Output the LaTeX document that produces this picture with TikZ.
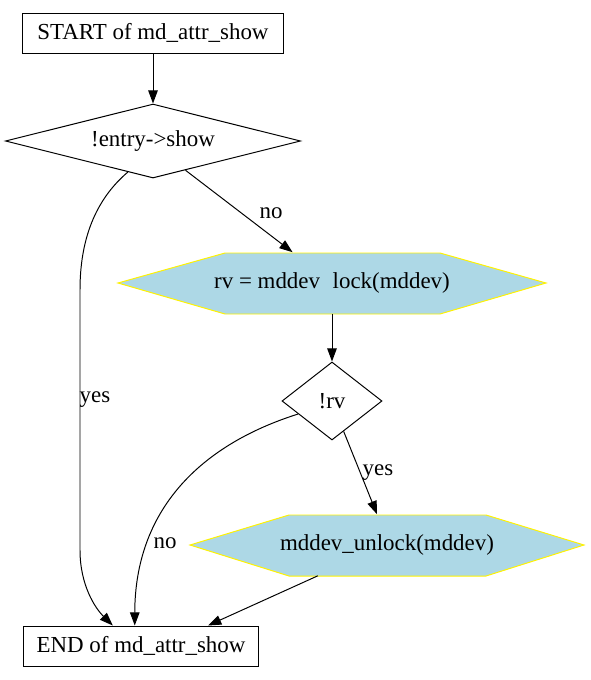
\documentclass[tikz,border=0pt]{standalone}
\usepackage{fontspec}
\setmainfont{Liberation Serif}
\usetikzlibrary{shapes.geometric, arrows.meta, calc}
\definecolor{hexblue}{RGB}{173,216,230}
\tikzset{
  every node/.style={font=\fontsize{16.3}{19}\selectfont},
  termbox/.style={draw, rectangle, line width=0.7pt, minimum height=1cm, inner sep=0pt},
  testnode/.style={draw, diamond, line width=0.7pt, inner sep=0pt},
  hexnode/.style={rectangle, inner sep=0pt, minimum height=1.525cm},
  hexfill/.style={fill=hexblue, draw=yellow, line width=0.7pt},
  flow/.style={-{Triangle[length=0.33cm,width=0.24cm]}, line width=0.7pt},
}
\begin{document}
\begin{tikzpicture}[x=0.025cm, y=-0.025cm]
\useasboundingbox (0,0) rectangle (591,680);
% hexagon backgrounds
\filldraw[hexfill] (118,283) -- (225,253) -- (440,253) -- (546,283) -- (440,314) -- (225,314) -- cycle;
\filldraw[hexfill] (190,545) -- (289,515) -- (486,515) -- (584,545) -- (486,576) -- (289,576) -- cycle;
% nodes
\node[termbox, minimum width=6.5cm] (start) at (153,33) {START of md\_attr\_show};
\node[testnode, aspect=4, minimum width=7.375cm, minimum height=1.85cm] (entry) at (153,141) {!entry->show};
\node[hexnode, minimum width=10.7cm] (lock) at (332,283) {rv = mddev\hspace{0.55em}lock(mddev)};
\node[testnode, aspect=1.28, minimum width=2.5cm, minimum height=1.95cm] (rv) at (332,401) {!rv};
\node[hexnode, minimum width=9.85cm] (unlock) at (387,545) {mddev\_unlock(mddev)};
\node[termbox, minimum width=5.875cm] (end) at (141,646) {END of md\_attr\_show};
% edges
\draw[flow] (start) -- (entry);
\draw[flow] (entry.-129) .. controls (95,200) and (80,240) .. (80,290) -- (80,550) .. controls (80,585) and (95,608) .. (end.144);
\draw[flow] (entry.-42) -- (lock.142);
\draw[flow] (lock) -- (rv);
\draw[flow] (rv.-69) -- (unlock.108);
\draw[flow] (rv.-159) .. controls (200,445) and (135,510) .. (end.107);
\draw[flow] (unlock.-156) -- (end.17);
% labels
\node (no1) at (271,213) {no};
\node (yes1) at (95,400) {yes};
\node (yes2) at (378,473) {yes};
\node (no2) at (165,543) {no};
\end{tikzpicture}
\end{document}
